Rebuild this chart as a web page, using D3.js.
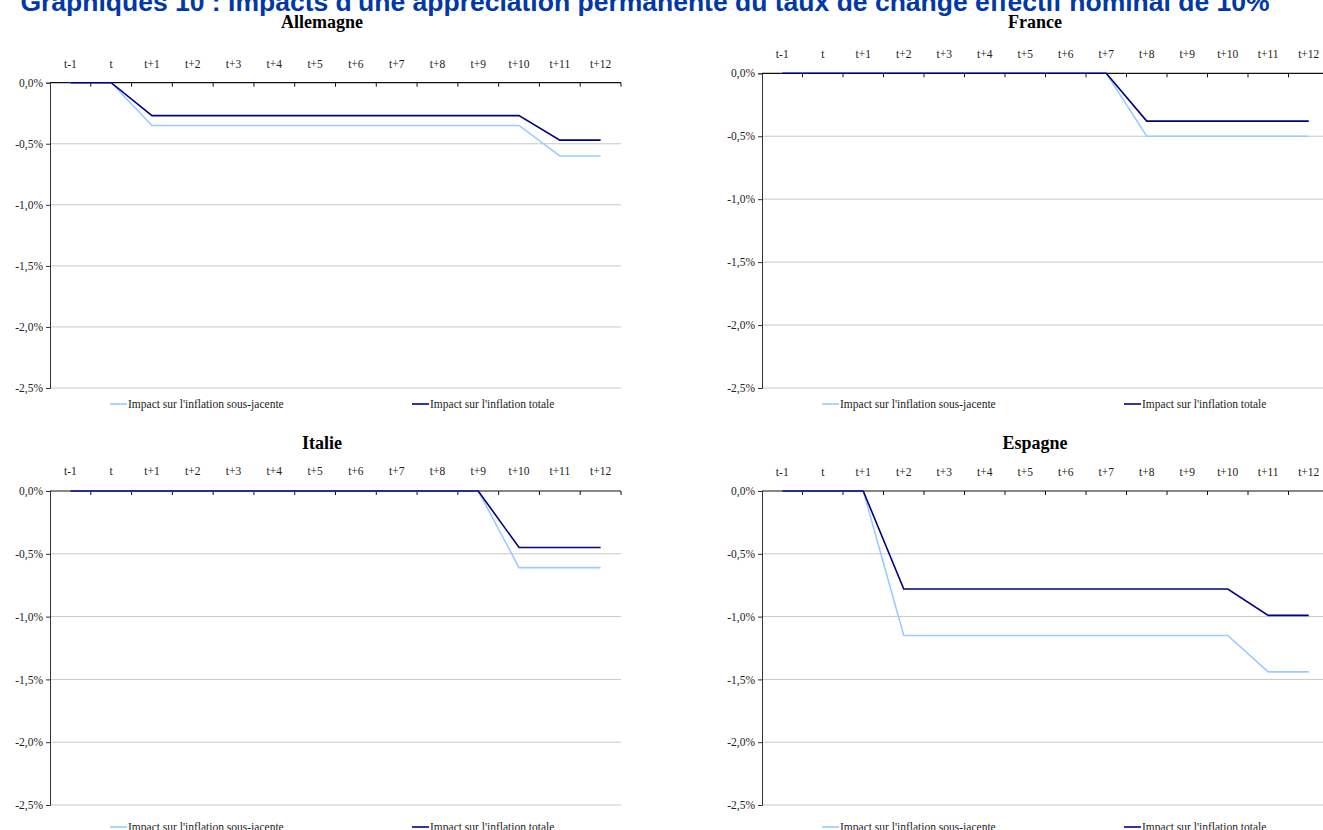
<!DOCTYPE html>
<html>
<head>
<meta charset="utf-8">
<script src="https://cdn.jsdelivr.net/npm/d3@7"></script>
<style>
  html, body { margin: 0; padding: 0; background: #fff; }
  svg { display: block; }
</style>
</head>
<body>
<svg id="chart" width="1323" height="830"></svg>
<script>
// Horizon labels (quarters after the shock)
const categories = ["t-1", "t", "t+1", "t+2", "t+3", "t+4", "t+5", "t+6", "t+7", "t+8", "t+9", "t+10", "t+11", "t+12"];
const yTicks = [0, -0.5, -1.0, -1.5, -2.0, -2.5];
const seriesNames = ["Impact sur l'inflation sous-jacente", "Impact sur l'inflation totale"];

// Impact on core ("sous-jacente") and headline ("totale") inflation, in %
const allemagneSousJacente = [0, 0, -0.35, -0.35, -0.35, -0.35, -0.35, -0.35, -0.35, -0.35, -0.35, -0.35, -0.60, -0.60];
const allemagneTotale      = [0, 0, -0.27, -0.27, -0.27, -0.27, -0.27, -0.27, -0.27, -0.27, -0.27, -0.27, -0.47, -0.47];
const franceSousJacente    = [0, 0, 0, 0, 0, 0, 0, 0, 0, -0.50, -0.50, -0.50, -0.50, -0.50];
const franceTotale         = [0, 0, 0, 0, 0, 0, 0, 0, 0, -0.38, -0.38, -0.38, -0.38, -0.38];
const italieSousJacente    = [0, 0, 0, 0, 0, 0, 0, 0, 0, 0, 0, -0.61, -0.61, -0.61];
const italieTotale         = [0, 0, 0, 0, 0, 0, 0, 0, 0, 0, 0, -0.45, -0.45, -0.45];
const espagneSousJacente   = [0, 0, 0, -1.15, -1.15, -1.15, -1.15, -1.15, -1.15, -1.15, -1.15, -1.15, -1.44, -1.44];
const espagneTotale        = [0, 0, 0, -0.78, -0.78, -0.78, -0.78, -0.78, -0.78, -0.78, -0.78, -0.78, -0.99, -0.99];

const colors = ["#99ccff", "#000080"];

const panels = [
  { name: "Allemagne", x0: 50,  x1: 621,  yTop: 82.7, yBot: 388, titleX: 322,  titleY: 28,  labelY: 68,  legendY: 404, data: [allemagneSousJacente, allemagneTotale] },
  { name: "France",    x0: 762, x1: 1329, yTop: 73.3, yBot: 388, titleX: 1035, titleY: 28,  labelY: 58,  legendY: 404, data: [franceSousJacente, franceTotale] },
  { name: "Italie",    x0: 50,  x1: 621,  yTop: 491,  yBot: 805, titleX: 322,  titleY: 449, labelY: 475, legendY: 827, data: [italieSousJacente, italieTotale] },
  { name: "Espagne",   x0: 762, x1: 1329, yTop: 491,  yBot: 805, titleX: 1035, titleY: 449, labelY: 476, legendY: 827, data: [espagneSousJacente, espagneTotale] }
];

const svg = d3.select("#chart");
const serif = "'Liberation Serif', 'Times New Roman', serif";
const fmt = v => d3.format(".1f")(v).replace("−", "-").replace(".", ",") + "%";

// Main heading
svg.append("text")
  .attr("x", 645).attr("y", 11)
  .attr("text-anchor", "middle")
  .attr("font-family", "'Liberation Sans', Arial, sans-serif")
  .attr("font-weight", "bold")
  .attr("font-size", 26.5)
  .attr("fill", "#0038a8")
  .text("Graphiques 10 : Impacts d'une appréciation permanente du taux de change effectif nominal de 10%");

panels.forEach(p => {
  const g = svg.append("g");
  const x = d3.scaleBand().domain(categories).range([p.x0, p.x1]);
  const y = d3.scaleLinear().domain([0, -2.5]).range([p.yTop, p.yBot]);
  const cx = c => x(c) + x.bandwidth() / 2;

  // Panel title
  g.append("text")
    .attr("x", p.titleX).attr("y", p.titleY)
    .attr("text-anchor", "middle")
    .attr("font-family", serif).attr("font-weight", "bold").attr("font-size", 18)
    .text(p.name);

  // Horizontal gridlines
  g.selectAll("line.grid").data(yTicks.filter(v => v !== 0)).join("line")
    .attr("x1", p.x0).attr("x2", p.x1)
    .attr("y1", d => y(d)).attr("y2", d => y(d))
    .attr("stroke", "#c8c8c8").attr("stroke-width", 1);

  // Left value axis
  const yAxis = d3.axisLeft(y).tickValues(yTicks).tickFormat(fmt).tickSize(4).tickPadding(3);
  const ya = g.append("g").attr("transform", `translate(${p.x0},0)`).call(yAxis);
  ya.select(".domain").attr("stroke", "#333");
  ya.selectAll(".tick line").attr("stroke", "#333");
  ya.selectAll("text").attr("font-family", serif).attr("font-size", 11.5).attr("fill", "#222");

  // Top category axis at zero, tick marks between categories pointing down
  const xa = g.append("g").attr("transform", `translate(0,${y(0)})`);
  xa.append("line").attr("x1", p.x0).attr("x2", p.x1).attr("stroke", "#111").attr("stroke-width", 1.2);
  xa.selectAll("line.tk").data(categories).join("line")
    .attr("x1", d => x(d) + x.bandwidth()).attr("x2", d => x(d) + x.bandwidth())
    .attr("y1", 0).attr("y2", 4).attr("stroke", "#111");
  g.selectAll("text.cat").data(categories).join("text")
    .attr("x", d => cx(d)).attr("y", p.labelY)
    .attr("text-anchor", "middle")
    .attr("font-family", serif).attr("font-size", 11.5).attr("fill", "#222")
    .text(d => d);

  // Series lines: core first, headline on top
  const line = d3.line().x((d, i) => cx(categories[i])).y(d => y(d));
  p.data.forEach((vals, k) => {
    g.append("path").datum(vals)
      .attr("d", line)
      .attr("fill", "none")
      .attr("stroke", colors[k])
      .attr("stroke-width", 1.6);
  });

  // Legend
  const legendOffsets = [60, 362];
  seriesNames.forEach((name, k) => {
    const lx = p.x0 + legendOffsets[k];
    g.append("line")
      .attr("x1", lx).attr("x2", lx + 17)
      .attr("y1", p.legendY).attr("y2", p.legendY)
      .attr("stroke", colors[k]).attr("stroke-width", 1.6);
    g.append("text")
      .attr("x", lx + 18).attr("y", p.legendY + 3.5)
      .attr("font-family", serif).attr("font-size", 11.5).attr("fill", "#222")
      .text(name);
  });
});
</script>
</body>
</html>
